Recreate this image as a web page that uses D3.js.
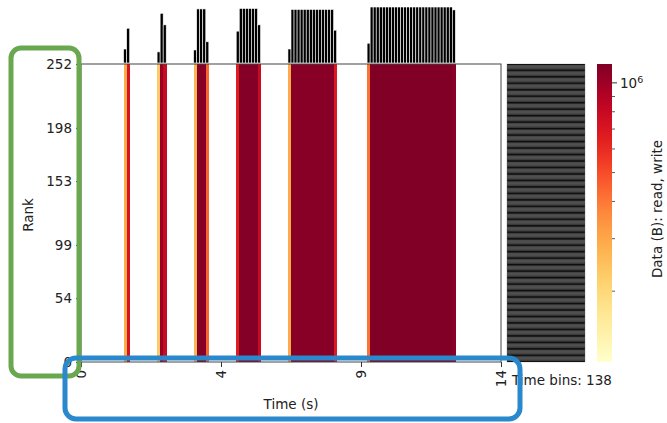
<!DOCTYPE html>
<head>
  <meta charset="utf-8">
  <script src="https://d3js.org/d3.v7.min.js"></script>
  <style>
    body { margin:0; background:#fff; }
    svg { display:block; font-family:"DejaVu Sans", sans-serif; }
  </style>
</head>

<body>
  <script>
    // data
    var nBins = 138,
        nRanks = 252,
        tMax = 14;

    // [bin index, bytes per rank] for every non-empty time bin
    var binValues = [
      [14, 2.9e5], [15, 7.2e5],
      [25, 2.3e5], [26, 1.03e6], [27, 7.9e5],
      [37, 2.7e5], [38, 1.12e6], [39, 1.12e6], [40, 1.12e6], [41, 4.4e5],
      [51, 6.6e5], [52, 1.13e6], [53, 1.13e6], [54, 1.13e6], [55, 1.13e6], [56, 1.13e6], [57, 1.13e6], [58, 7.9e5],
      [68, 2.9e5], [69, 1.11e6], [70, 1.11e6], [71, 1.11e6], [72, 1.11e6], [73, 1.11e6], [74, 1.11e6], [75, 1.11e6],
      [76, 1.11e6], [77, 1.11e6], [78, 1.11e6], [79, 1.11e6], [80, 1.11e6], [81, 1.11e6], [82, 1.11e6], [83, 6.8e5],
      [94, 4.1e5], [95, 1.16e6], [96, 1.16e6], [97, 1.16e6], [98, 1.16e6], [99, 1.16e6], [100, 1.16e6], [101, 1.16e6],
      [102, 1.16e6], [103, 1.16e6], [104, 1.16e6], [105, 1.16e6], [106, 1.16e6], [107, 1.16e6], [108, 1.16e6],
      [109, 1.16e6], [110, 1.16e6], [111, 1.16e6], [112, 1.16e6], [113, 1.16e6], [114, 1.16e6], [115, 1.16e6],
      [116, 1.16e6], [117, 1.16e6], [118, 1.16e6], [119, 1.16e6], [120, 1.16e6], [121, 1.16e6], [122, 1.10e6]
    ];

    var rankTicks = [0, 54, 99, 153, 198, 252];
    var timeTickBins = [0, 46, 92, 138],
        timeTickLabels = ["0", "4", "9", "14"];
    var cbarDomain = [1.157e5, 1.157e6],
        cbarMinor = [2e5, 3e5, 4e5, 5e5, 6e5, 7e5, 8e5, 9e5];

    var W = 667, H = 423;
    var svg = d3.select("body").append("svg").attr("width", W).attr("height", H);

    var pL = 81, pR = 501, pT = 64, pB = 362;

    var x = d3.scaleLinear().domain([0, nBins]).range([pL, pR]);
    var y = d3.scaleLinear().domain([0, nRanks]).range([pB, pT]);
    var color = d3.scaleSequentialLog(d3.interpolateYlOrRd).domain(cbarDomain);
    var bw = x(1) - x(0);

    // heatmap: every rank gets the same bytes in a bin
    svg.append("g").attr("shape-rendering", "crispEdges")
      .selectAll("rect").data(binValues)
      .enter().append("rect")
        .attr("x", function(d){ return x(d[0]); })
        .attr("y", y(nRanks))
        .attr("width", bw + 0.6)
        .attr("height", y(0) - y(nRanks))
        .attr("fill", function(d){ return color(d[1]); });

    // top histogram: bytes summed over ranks
    var hy = d3.scaleLinear()
      .domain([0, d3.max(binValues, function(d){ return d[1] * nRanks; })])
      .range([pT - 1, 7]);
    svg.append("g").selectAll("rect").data(binValues)
      .enter().append("rect")
        .attr("x", function(d){ return x(d[0]); })
        .attr("y", function(d){ return hy(d[1] * nRanks); })
        .attr("width", bw)
        .attr("height", function(d){ return hy(0) - hy(d[1] * nRanks); })
        .attr("fill", "#000")
        .attr("stroke", "#fff")
        .attr("stroke-width", 0.6);

    // right panel: bytes summed over bins for every rank
    var total = d3.sum(binValues, function(d){ return d[1]; });
    var rankTotals = d3.range(nRanks).map(function(r){ return total; });
    var rx = d3.scaleLinear().domain([0, d3.max(rankTotals)]).range([507, 585]);
    svg.append("g").selectAll("rect").data(rankTotals)
      .enter().append("rect")
        .attr("x", rx(0))
        .attr("y", function(d, i){ return y(i + 1); })
        .attr("width", function(d){ return rx(d) - rx(0); })
        .attr("height", y(0) - y(1))
        .attr("fill", "#000")
        .attr("stroke", "#777")
        .attr("stroke-width", 0.3);

    // frame
    svg.append("rect")
      .attr("x", pL).attr("y", pT)
      .attr("width", pR - pL).attr("height", pB - pT)
      .attr("fill", "none").attr("stroke", "#444").attr("stroke-width", 1);

    // axes
    var yAxis = svg.append("g").attr("transform", "translate(" + pL + ",0)")
      .call(d3.axisLeft(y).tickValues(rankTicks).tickSize(5).tickPadding(4));
    var xAxis = svg.append("g").attr("transform", "translate(0," + pB + ")")
      .call(d3.axisBottom(x).tickValues(timeTickBins).tickSize(5)
        .tickFormat(function(d, i){ return timeTickLabels[i]; }));
    [xAxis, yAxis].forEach(function(a){
      a.select(".domain").remove();
      a.selectAll("line").attr("stroke", "#333");
      a.selectAll("text").attr("fill", "#222").style("font-size", "13.5px")
        .style("font-family", "DejaVu Sans");
    });
    xAxis.selectAll("text")
      .attr("transform", "rotate(-90)")
      .attr("y", 0).attr("dy", "0.35em")
      .attr("x", -8)
      .style("text-anchor", "end");

    svg.append("text").attr("x", (pL + pR) / 2).attr("y", 409)
      .attr("text-anchor", "middle").style("font-size", "13.5px").attr("fill", "#222")
      .text("Time (s)");
    svg.append("text").attr("transform", "translate(33,215) rotate(-90)")
      .attr("text-anchor", "middle").style("font-size", "13.5px").attr("fill", "#222")
      .text("Rank");
    svg.append("text").attr("x", 512).attr("y", 385)
      .style("font-size", "13.5px").attr("fill", "#222")
      .text("Time bins: " + nBins);

    // colorbar
    var cy = d3.scaleLog().domain(cbarDomain).range([pB, pT]);
    var grad = svg.append("defs").append("linearGradient")
      .attr("id", "cb").attr("x1", 0).attr("y1", 1).attr("x2", 0).attr("y2", 0);
    d3.range(0, 1.0001, 0.05).forEach(function(t){
      grad.append("stop").attr("offset", t).attr("stop-color", d3.interpolateYlOrRd(t));
    });
    svg.append("rect").attr("x", 597).attr("y", pT)
      .attr("width", 15).attr("height", pB - pT).attr("fill", "url(#cb)");
    var cb = svg.append("g").attr("transform", "translate(612,0)");
    cb.selectAll("line.minor").data(cbarMinor).enter().append("line")
      .attr("x1", 0).attr("x2", 3)
      .attr("y1", function(d){ return cy(d); }).attr("y2", function(d){ return cy(d); })
      .attr("stroke", "#333").attr("stroke-width", 0.8);
    cb.append("line").attr("x1", 0).attr("x2", 5)
      .attr("y1", cy(1e6)).attr("y2", cy(1e6)).attr("stroke", "#333");
    var lab = cb.append("text").attr("x", 8).attr("y", cy(1e6)).attr("dy", "0.35em")
      .style("font-size", "13.5px").attr("fill", "#222");
    lab.append("tspan").text("10");
    lab.append("tspan").attr("dy", "-0.45em").style("font-size", "9.5px").text("6");
    svg.append("text").attr("transform", "translate(662,209) rotate(-90)")
      .attr("text-anchor", "middle").style("font-size", "13.5px").attr("fill", "#222")
      .text("Data (B): read, write");

    // highlight boxes
    svg.append("rect").attr("x", 11).attr("y", 48).attr("width", 68).attr("height", 328)
      .attr("rx", 10).attr("fill", "none").attr("stroke", "#6aa84f").attr("stroke-width", 5);
    svg.append("rect").attr("x", 65).attr("y", 358).attr("width", 455).attr("height", 61)
      .attr("rx", 11).attr("fill", "none").attr("stroke", "#2a88cc").attr("stroke-width", 5);
  </script>
</body>

</html>
